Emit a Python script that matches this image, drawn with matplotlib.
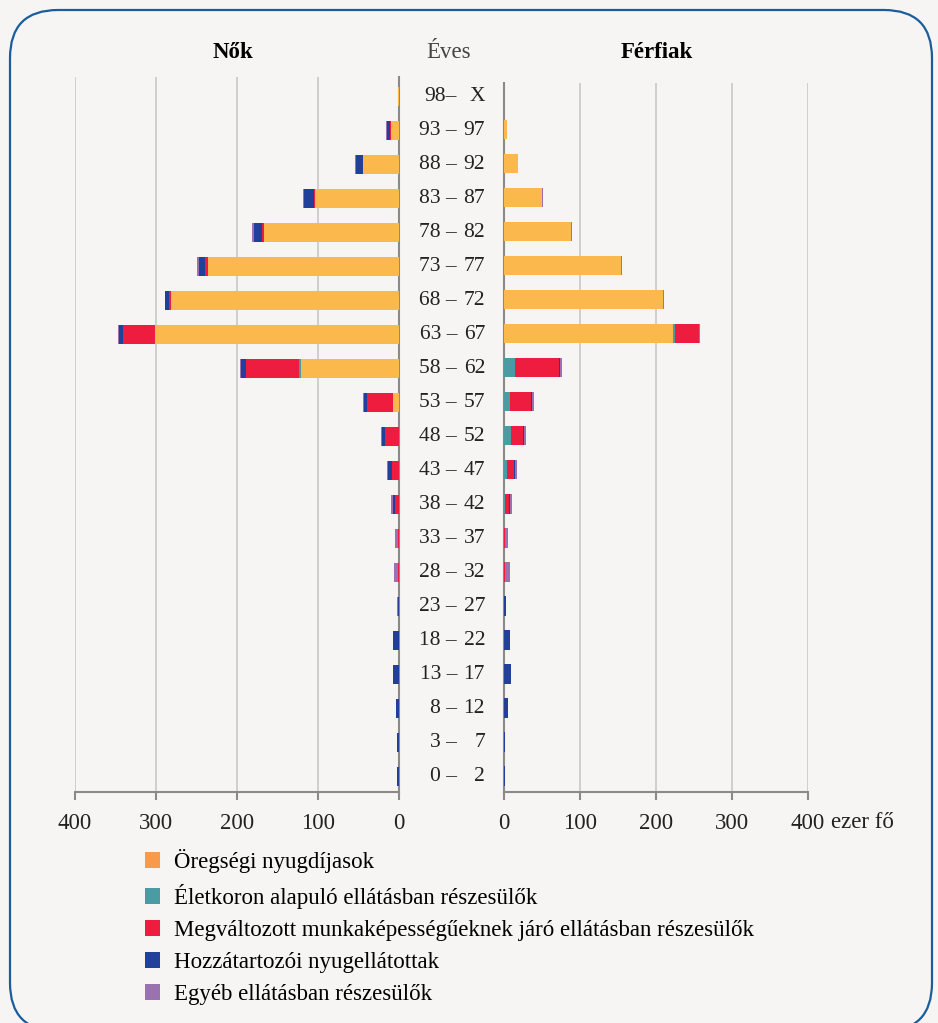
import matplotlib.pyplot as plt
import numpy as np
from matplotlib.patches import FancyBboxPatch, Patch
from matplotlib.transforms import IdentityTransform, blended_transform_factory

plt.rcParams['font.family'] = ['Liberation Serif', 'DejaVu Serif']

# korcsoportok, felülről lefelé
kor_bal = ['98–', '93 –', '88 –', '83 –', '78 –', '73 –', '68 –', '63 –', '58 –', '53 –', '48 –',
           '43 –', '38 –', '33 –', '28 –', '23 –', '18 –', '13 –', '8 –', '3 –', '0 –']
kor_jobb = ['X', '97', '92', '87', '82', '77', '72', '67', '62', '57', '52',
            '47', '42', '37', '32', '27', '22', '17', '12', '7', '2']

# Nők (ezer fő)
nok_oreg = [1, 10, 44, 104, 167, 236, 281, 301, 121, 8, 0, 0, 0, 0, 0, 0, 0, 0, 0, 0, 0]
nok_eletkor = [0, 0, 0, 0, 0, 0, 0, 0, 2.5, 0, 0.5, 0, 0, 0, 0, 0, 0, 0, 0, 0, 0]
nok_megval = [0, 0.5, 1, 1, 2, 3, 3, 40, 66, 31, 17, 9, 5, 1, 1, 0, 0, 0, 0, 0, 0]
nok_hozza = [0, 4, 8.5, 12, 10, 8, 4.5, 4.5, 5, 4, 3, 4, 2, 0, 0, 1.5, 7, 7.5, 4, 2, 2]
nok_egyeb = [0, 1, 0.5, 1, 2, 2, 1, 1, 2, 2, 2, 1.5, 3, 4, 5, 0.5, 0.3, 0.3, 0.3, 0, 0]

# Férfiak (ezer fő)
ffi_oreg = [0.3, 3.5, 18.5, 50, 88, 154, 209, 223, 0, 0, 0, 0, 0, 0, 0, 0, 0, 0, 0, 0, 0]
ffi_eletkor = [0, 0, 0, 0, 0, 0, 0, 1.5, 15, 8.3, 8.8, 3.5, 1, 0, 0, 0, 0, 0, 0, 0, 0]
ffi_megval = [0, 0, 0, 0, 0, 0, 0, 32, 57, 27, 16, 9, 5.7, 1.3, 1, 0, 0, 0, 0, 0, 0]
ffi_hozza = [0, 0, 0, 0, 0, 0, 0, 0, 2, 1.3, 1.3, 2, 1.3, 0, 0, 2, 7.5, 9.6, 4.8, 1.5, 1.5]
ffi_egyeb = [0, 0.5, 0.5, 1, 1, 1.5, 1.5, 1, 2.6, 2.6, 2.6, 3, 3, 4, 7.5, 0, 0, 0, 0, 0, 0]

nevek = ['Öregségi nyugdíjasok',
         'Életkoron alapuló ellátásban részesülők',
         'Megváltozott munkaképességűeknek járó ellátásban részesülők',
         'Hozzátartozói nyugellátottak',
         'Egyéb ellátásban részesülők']
szinek = ['#fbb94d', '#4b9ba3', '#ee1c3f', '#22409a', '#9b72b0']
legend_szinek = ['#f79a4b', '#4b9ba3', '#ee1c3f', '#22409a', '#9b72b0']

bg = '#f6f5f3'
grid_c = '#c4c4c4'
spine_c = '#8a8a8a'
fs = 16.5

W, H = 938, 1023
fig = plt.figure(figsize=(W / 100, H / 100), dpi=100, facecolor=bg)

# keret
fig.add_artist(FancyBboxPatch((10, -8), 922, 1021, boxstyle='round,pad=0,rounding_size=48',
                              transform=IdentityTransform(), facecolor='none',
                              edgecolor='#1b5c9c', linewidth=1.6))

ax_l = fig.add_axes([75 / W, 1 - 792 / H, 324 / W, (792 - 77) / H])
ax_r = fig.add_axes([504 / W, 1 - 792 / H, 304 / W, (792 - 83) / H])

y = np.arange(len(kor_jobb))
h = 0.56

for ax, series, top in [(ax_l, [nok_oreg, nok_eletkor, nok_megval, nok_hozza, nok_egyeb], -0.56),
                        (ax_r, [ffi_oreg, ffi_eletkor, ffi_megval, ffi_hozza, ffi_egyeb], -0.38)]:
    left = np.zeros(len(y))
    for vals, c in zip(series, szinek):
        vals = np.array(vals, dtype=float)
        ax.barh(y, vals, left=left, height=h, color=c, linewidth=0, zorder=3)
        left += vals
    ax.set_facecolor('none')
    ax.set_ylim(20.47, top)
    ax.set_yticks([])
    ax.set_xticks([0, 100, 200, 300, 400])
    ax.grid(axis='x', color=grid_c, linewidth=1.1, zorder=0)
    ax.tick_params(axis='x', direction='out', length=6, width=1.5, color=spine_c,
                   labelsize=fs, pad=9, labelcolor='#222222')
    ax.spines['top'].set_visible(False)
    for s in ax.spines.values():
        s.set_color(spine_c)
        s.set_linewidth(1.5)

ax_l.set_xlim(400, 0)
ax_l.spines['left'].set_visible(False)
ax_r.set_xlim(0, 400)
ax_r.spines['right'].set_visible(False)

# korcsoport feliratok
tr = blended_transform_factory(fig.transFigure, ax_l.transData)
for i, (a, b) in enumerate(zip(kor_bal, kor_jobb)):
    fig.text(457 / W, i, a, transform=tr, ha='right', va='center', fontsize=15.5, color='#222222')
    fig.text(485 / W, i, b, transform=tr, ha='right', va='center', fontsize=15.5, color='#222222')

fig.text(233 / W, 1 - 52 / H, 'Nők', ha='center', va='center', fontsize=fs, fontweight='bold')
fig.text(449 / W, 1 - 52 / H, 'Éves', ha='center', va='center', fontsize=fs, color='#444444')
fig.text(657 / W, 1 - 52 / H, 'Férfiak', ha='center', va='center', fontsize=fs, fontweight='bold')
fig.text(831 / W, 1 - 823 / H, 'ezer fő', ha='left', va='center', fontsize=fs, color='#222222')

handles = [Patch(facecolor=c, edgecolor='none') for c in legend_szinek]
fig.legend(handles, nevek, loc='upper left', bbox_to_anchor=(145 / W, 1 - 849 / H),
           frameon=False, fontsize=fs, handlelength=0.65, handleheight=0.65,
           handletextpad=0.6, labelspacing=0.48, borderaxespad=0, borderpad=0)

fig.savefig('out.png', dpi=100, facecolor=bg)
